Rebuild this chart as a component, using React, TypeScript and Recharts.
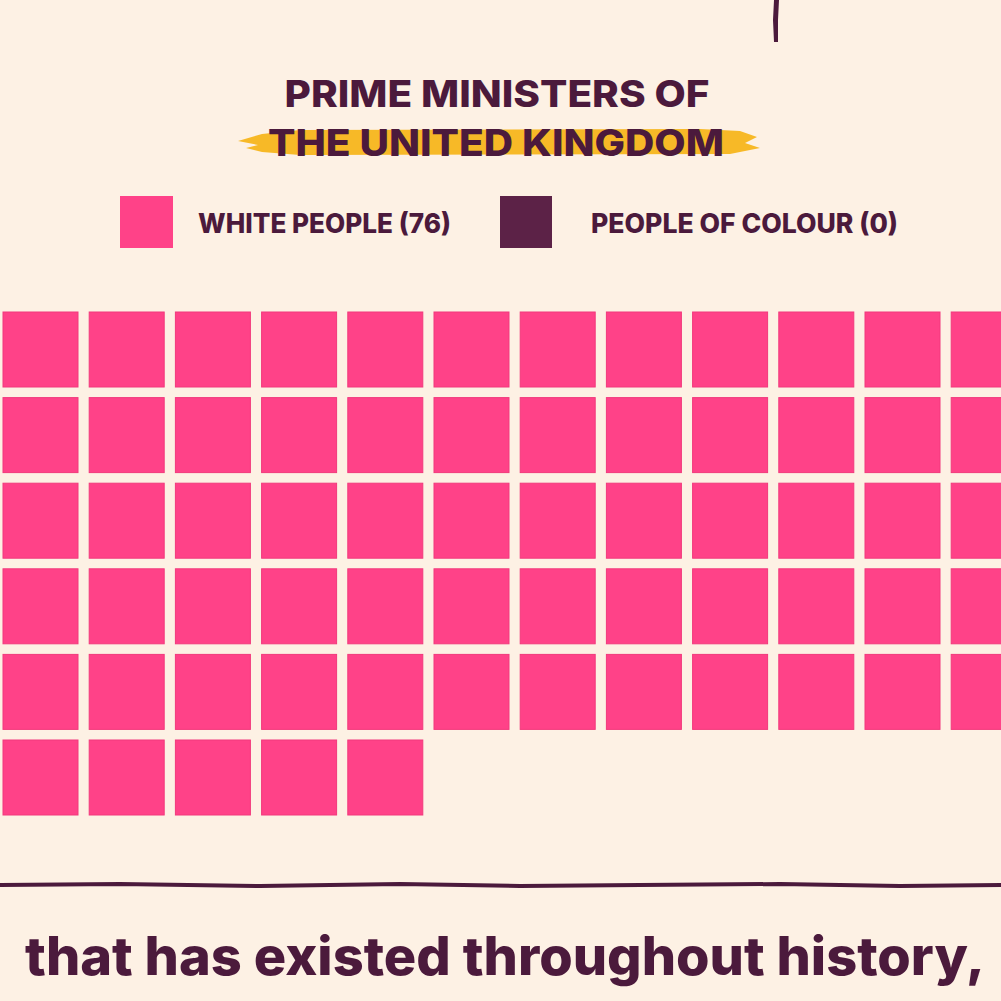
import { Scatter, ScatterChart, XAxis, YAxis } from "recharts";

// legend categories and their counts
const categories = ["WHITE PEOPLE", "PEOPLE OF COLOUR"];
const counts = [76, 0];
const categoryColors = ["#ff4288", "#5c2247"];

// squares visible in each row of the cropped frame
const rowCounts = [12, 12, 12, 12, 12, 5];

const titleLines = ["PRIME MINISTERS OF", "THE UNITED KINGDOM"];
const caption = "that has existed throughout history,";

const INK = "#4b1a3c";
const BG = "#fdf1e4";
const FONT = "Inter, 'DejaVu Sans', sans-serif";

const cells = rowCounts.flatMap((n, row) =>
  Array.from({ length: n }, (_, col) => ({ col, row }))
);

const Square = (props: any) => {
  const { cx, cy } = props;
  if (cx == null || cy == null) return <g />;
  return (
    <rect
      x={cx - 37.5}
      y={cy - 37.5}
      width={75}
      height={75}
      fill={categoryColors[0]}
      stroke="#f2397c"
      strokeWidth={1}
    />
  );
};

export default function App() {
  return (
    <div
      style={{
        position: "fixed",
        left: 0,
        top: 0,
        width: 1001,
        height: 1001,
        overflow: "hidden",
        background: BG,
      }}
    >
      {/* decorations and text */}
      <svg
        width={1001}
        height={1001}
        style={{ position: "absolute", left: 0, top: 0 }}
      >
        <path
          d="M774 0 L779 0 L778 20 L778 42 L774 42 L773 20 Z"
          fill={INK}
        />
        <path
          d="M238 141 L262 134 L300 130 L700 129 L740 131 L757 137 L745 143 L760 148 L730 154 L300 155 L262 152 L246 148 L258 145 Z"
          fill="#f7b927"
        />
        <text
          x={497}
          y={107}
          textAnchor="middle"
          fontFamily={FONT}
          fontWeight={800}
          fontSize={37}
          fill={INK}
          textLength={425}
          lengthAdjust="spacingAndGlyphs"
        >
          {titleLines[0]}
        </text>
        <text
          x={496}
          y={156}
          textAnchor="middle"
          fontFamily={FONT}
          fontWeight={800}
          fontSize={37}
          fill={INK}
          textLength={456}
          lengthAdjust="spacingAndGlyphs"
        >
          {titleLines[1]}
        </text>

        {/* legend */}
        <rect x={120} y={196} width={53} height={52} fill={categoryColors[0]} />
        <text
          x={198}
          y={233}
          fontFamily={FONT}
          fontWeight={800}
          fontSize={27}
          fill={INK}
          textLength={253}
          lengthAdjust="spacingAndGlyphs"
        >
          {`${categories[0]} (${counts[0]})`}
        </text>
        <rect x={500} y={196} width={52} height={52} fill={categoryColors[1]} />
        <text
          x={591}
          y={233}
          fontFamily={FONT}
          fontWeight={800}
          fontSize={27}
          fill={INK}
          textLength={307}
          lengthAdjust="spacingAndGlyphs"
        >
          {`${categories[1]} (${counts[1]})`}
        </text>

        <path
          d="M0 885 L120 884 L260 886 L400 884 L520 886 L640 885 L780 884 L900 886 L1001 885"
          stroke={INK}
          strokeWidth={4}
          fill="none"
        />
        <text
          x={25}
          y={975}
          fontFamily={FONT}
          fontWeight={800}
          fontSize={53}
          fill={INK}
          textLength={960}
          lengthAdjust="spacingAndGlyphs"
        >
          {caption}
        </text>
      </svg>

      <div style={{ position: "absolute", left: 0, top: 0 }}>
        <ScatterChart
          width={1001}
          height={1001}
          margin={{ top: 349.5, right: 12.3, bottom: 223.5, left: 40.5 }}
        >
          <XAxis type="number" dataKey="col" domain={[0, 11]} hide />
          <YAxis type="number" dataKey="row" domain={[0, 5]} reversed hide />
          <Scatter data={cells} shape={Square} isAnimationActive={false} />
        </ScatterChart>
      </div>
    </div>
  );
}
